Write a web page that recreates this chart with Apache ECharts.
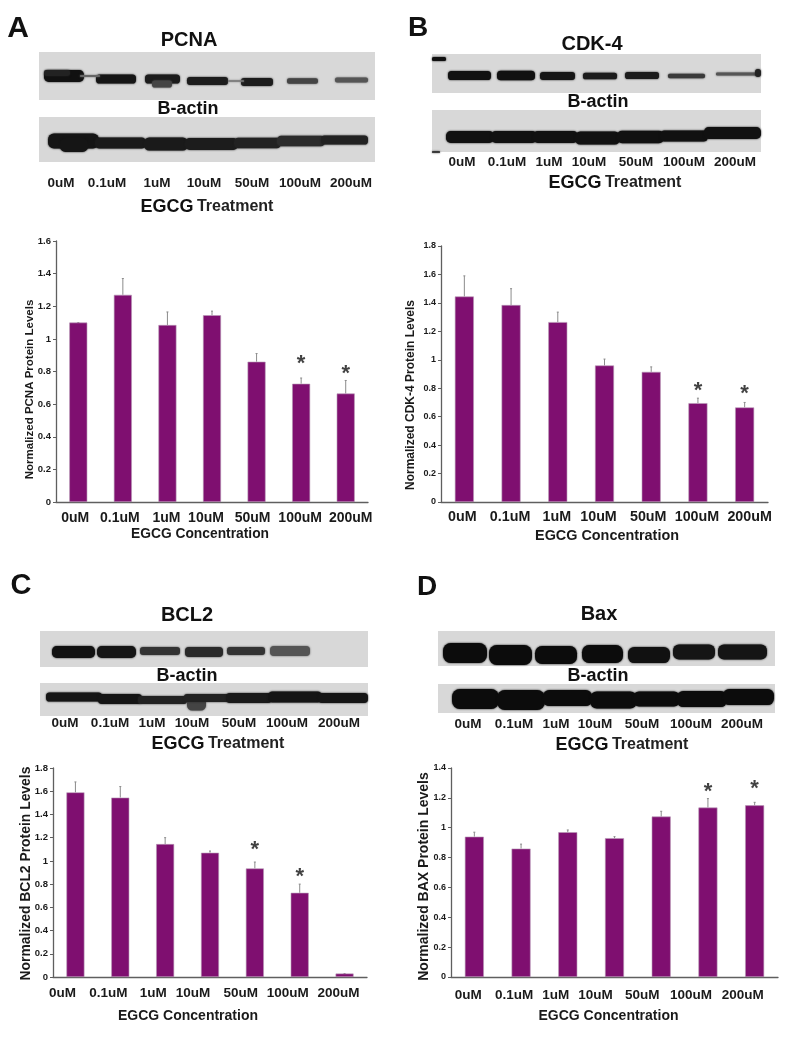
<!DOCTYPE html>
<html>
<head>
<meta charset="utf-8">
<title>EGCG western blots</title>
<script src="https://cdn.jsdelivr.net/npm/echarts@6/dist/echarts.min.js"></script>
<style>
  html, body { margin: 0; padding: 0; background: #fff; }
  #main { width: 807px; height: 1050px; filter: blur(0.45px); }
</style>
</head>
<body>
<div id="main"></div>
<script>
var doses = ['0uM', '0.1uM', '1uM', '10uM', '50uM', '100uM', '200uM']

// bar heights and the top of each error bar
var pcnaValues = [1.1, 1.27, 1.085, 1.145, 0.86, 0.725, 0.665]
var pcnaTops = [1.1, 1.37, 1.165, 1.17, 0.91, 0.76, 0.745]
var pcnaStars = [null, null, null, null, null, 0.864, 0.805]

var cdkValues = [1.445, 1.385, 1.265, 0.96, 0.915, 0.695, 0.665]
var cdkTops = [1.59, 1.5, 1.335, 1.005, 0.95, 0.73, 0.7]
var cdkStars = [null, null, null, null, null, 0.8, 0.78]

var bclValues = [1.59, 1.545, 1.145, 1.07, 0.935, 0.725, 0.03]
var bclTops = [1.68, 1.64, 1.2, 1.085, 0.99, 0.8, 0.03]
var bclStars = [null, null, null, null, 1.12, 0.887, null]

var baxValues = [0.94, 0.86, 0.97, 0.93, 1.075, 1.135, 1.15]
var baxTops = [0.97, 0.89, 0.985, 0.94, 1.11, 1.195, 1.17]
var baxStars = [null, null, null, null, null, 1.263, 1.277]

var FONT = '"Liberation Sans", Arial, sans-serif'
var PURPLE = '#7f0f70'
var AXIS = '#5f5f5f'

var panels = [
  { values: pcnaValues, tops: pcnaTops, stars: pcnaStars, yName: 'Normalized PCNA Protein Levels', max: 1.6,
    left: 56, right: 368, top: 241, bottom: 502, barWidth: 18, tickFont: 9.5, nameFont: 11.5, xFont: 14, xNameFont: 13.8,
    shifts: [-3, -3, -1, -6, -4, -1, 5], yGap: 20, yShift: 18, xShift: -12, xGap: 25, labelMargin: 9 },
  { values: cdkValues, tops: cdkTops, stars: cdkStars, yName: 'Normalized CDK-4 Protein Levels', max: 1.8,
    left: 441, right: 768, top: 246, bottom: 502, barWidth: 19, tickFont: 9, nameFont: 12, xFont: 14.3, xNameFont: 14.4,
    shifts: [-2, -1, -1, -6, -3, -1, 5], yGap: 24, yShift: 21, xShift: 2.5, xGap: 27, labelMargin: 8 },
  { values: bclValues, tops: bclTops, stars: bclStars, yName: 'Normalized BCL2 Protein Levels', max: 1.8,
    left: 53, right: 367, top: 768, bottom: 977, barWidth: 18, tickFont: 9.5, nameFont: 13.9, xFont: 13.5, xNameFont: 14,
    shifts: [-13, -12, -12, -17, -14, -12, -6], yGap: 20, yShift: 1, xShift: -22, xGap: 32, labelMargin: 9 },
  { values: baxValues, tops: baxTops, stars: baxStars, yName: 'Normalized BAX Protein Levels', max: 1.4,
    left: 451, right: 778, top: 768, bottom: 977, barWidth: 19, tickFont: 9, nameFont: 14, xFont: 13.5, xNameFont: 14,
    shifts: [-6, -7, -12, -19, -19, -17, -12], yGap: 20, yShift: 4, xShift: -6, xGap: 32, labelMargin: 11 }
]

// gel strips: [x0, y0, x1, y1]
var gelStrips = [
  [39, 52, 375, 100], [39, 117, 375, 162],
  [432, 54, 761, 93], [432, 110, 761, 152],
  [40, 631, 368, 667], [40, 683, 368, 716],
  [438, 631, 775, 666], [438, 684, 775, 713]
]

// gel bands: [x0, x1, centre y, thickness, colour]
var gelBands = [
  [44, 84, 76, 12, '#111'], [44, 70, 73, 6, '#222'], [96, 136, 79, 9, '#151515'], [145, 180, 79, 9, '#1c1c1c'],
  [152, 172, 84, 7, '#444'], [187, 228, 81, 8, '#1c1c1c'], [241, 273, 82, 8, '#1c1c1c'], [287, 318, 81, 5.5, '#444'],
  [335, 368, 80, 5, '#555'], [80, 100, 76, 2, '#666'], [228, 244, 81, 1.5, '#777'],

  [48, 99, 141, 15, '#151515'], [60, 88, 145, 14, '#151515'], [95, 146, 143, 11, '#1a1a1a'], [144, 188, 144, 13, '#1a1a1a'],
  [185, 238, 144, 12, '#1c1c1c'], [234, 281, 143, 10.5, '#222'], [277, 325, 141, 10.5, '#2c2c2c'], [321, 368, 140, 9, '#222'],

  [448, 491, 75.5, 9, '#111'], [497, 535, 75.5, 9.5, '#111'], [540, 575, 76, 8, '#151515'], [583, 617, 76, 6.5, '#1c1c1c'],
  [625, 659, 75.5, 7, '#1c1c1c'], [668, 705, 76, 4.5, '#3a3a3a'], [716, 758, 74, 3, '#555'], [755, 761, 73, 8, '#222'],

  [446, 494, 137, 12, '#111'], [491, 537, 137, 12, '#111'], [533, 578, 137, 12, '#111'], [575, 620, 138, 13, '#111'],
  [617, 664, 137, 12.5, '#111'], [660, 708, 136, 11, '#111'], [704, 761, 133, 12, '#111'],

  [52, 95, 652, 12, '#111'], [97, 136, 652, 12, '#151515'], [140, 180, 651, 8, '#333'], [185, 223, 652, 10, '#2a2a2a'],
  [227, 265, 651, 8, '#333'], [270, 310, 651, 10, '#555'],

  [46, 102, 697, 9, '#151515'], [98, 142, 699, 10, '#151515'], [138, 187, 700, 8, '#222'], [187, 206, 704, 13, '#444'],
  [184, 230, 698, 8, '#222'], [226, 272, 698, 10, '#1a1a1a'], [268, 322, 697, 11, '#151515'], [318, 368, 698, 10, '#151515'],

  [443, 487, 653, 20, '#0c0c0c'], [489, 532, 655, 20, '#0c0c0c'], [535, 577, 655, 18, '#0c0c0c'], [582, 623, 654, 18, '#0c0c0c'],
  [628, 670, 655, 16, '#111'], [673, 715, 652, 15, '#151515'], [718, 767, 652, 15, '#151515'],

  [452, 499, 699, 20, '#0c0c0c'], [497, 545, 700, 20, '#0c0c0c'], [543, 592, 698, 16, '#0c0c0c'], [590, 637, 700, 17, '#0c0c0c'],
  [633, 680, 699, 15, '#0c0c0c'], [677, 727, 699, 16, '#0c0c0c'], [723, 774, 697, 16, '#0c0c0c'],

  [432, 446, 59, 4, '#111'], [432, 440, 152, 1.5, '#222']
]

// [text, x, y, size]
var bigLabels = [
  ['A', 18, 29, 30], ['B', 418, 28, 28], ['C', 21, 586, 29], ['D', 427, 587, 28],
  ['PCNA', 189, 40, 20], ['CDK-4', 592, 44, 20], ['BCL2', 187, 615, 20], ['Bax', 599, 614, 20],
  ['B-actin', 188, 109, 18], ['B-actin', 598, 102, 18], ['B-actin', 187, 676, 18], ['B-actin', 598, 676, 18]
]
// lane labels under each gel: y, x of every lane
var laneRows = [
  [183, [61, 107, 157, 204, 252, 300, 351]],
  [162, [462, 507, 549, 589, 636, 684, 735]],
  [723, [65, 110, 152, 192, 239, 287, 339]],
  [724, [468, 514, 556, 595, 642, 691, 742]]
]
var treatmentLabels = [[207, 207], [615, 183], [218, 744], [622, 745]]

function makeGraphic () {
  var list = []
  gelStrips.forEach(function (s) {
    list.push({ type: 'rect', silent: true, shape: { x: s[0], y: s[1], width: s[2] - s[0], height: s[3] - s[1] }, style: { fill: '#d8d8d8' } })
  })
  gelBands.forEach(function (b) {
    list.push({
      type: 'rect', silent: true,
      shape: { x: b[0], y: b[2] - b[3] / 2, width: b[1] - b[0], height: b[3], r: b[3] * 0.4 },
      style: { fill: b[4], shadowBlur: 2, shadowColor: b[4] }
    })
  })
  bigLabels.forEach(function (t) {
    list.push({
      type: 'text', silent: true,
      style: { text: t[0], x: t[1], y: t[2], align: 'center', verticalAlign: 'middle', fill: '#111', font: 'bold ' + t[3] + 'px ' + FONT }
    })
  })
  laneRows.forEach(function (row) {
    row[1].forEach(function (x, i) {
      list.push({
        type: 'text', silent: true,
        style: { text: doses[i], x: x, y: row[0], align: 'center', verticalAlign: 'middle', fill: '#1a1a1a', font: 'bold 13.5px ' + FONT }
      })
    })
  })
  treatmentLabels.forEach(function (t) {
    list.push({
      type: 'text', silent: true,
      style: {
        text: '{a|EGCG} {b|Treatment}', x: t[0], y: t[1], align: 'center', verticalAlign: 'middle',
        rich: {
          a: { font: 'bold 18px ' + FONT, fill: '#111' },
          b: { font: 'bold 16px ' + FONT, fill: '#222' }
        }
      }
    })
  })
  return list
}

function errorBar (params, api) {
  var bottom = api.coord([api.value(0), api.value(1)])
  var top = api.coord([api.value(0), api.value(2)])
  var lineStyle = { stroke: '#8c8c8c', lineWidth: 1 }
  return {
    type: 'group',
    children: [
      { type: 'line', shape: { x1: bottom[0], y1: bottom[1], x2: top[0], y2: top[1] }, style: lineStyle },
      { type: 'line', shape: { x1: top[0] - 1, y1: top[1], x2: top[0] + 1, y2: top[1] }, style: lineStyle }
    ]
  }
}

var grids = [], xAxes = [], yAxes = [], series = []

panels.forEach(function (p, n) {
  var rich = {}
  p.shifts.forEach(function (s, i) {
    rich['s' + i] = {
      fontFamily: FONT, fontWeight: 'bold', fontSize: p.xFont, color: '#1a1a1a',
      padding: s < 0 ? [0, -2 * s, 0, 0] : [0, 0, 0, 2 * s]
    }
  })
  grids.push({ left: p.left, top: p.top, width: p.right - p.left, height: p.bottom - p.top, containLabel: false })
  xAxes.push({
    type: 'category', gridIndex: n, data: doses,
    name: 'EGCG Concentration', nameLocation: 'middle', nameGap: p.xGap,
    nameTextStyle: {
      fontFamily: FONT, fontWeight: 'bold', fontSize: p.xNameFont, color: '#1a1a1a',
      padding: p.xShift < 0 ? [0, -2 * p.xShift, 0, 0] : [0, 0, 0, 2 * p.xShift]
    },
    axisLine: { lineStyle: { color: AXIS, width: 1.3 } },
    axisTick: { length: 3, lineStyle: { color: AXIS } },
    axisLabel: {
      interval: 0, margin: p.labelMargin, rich: rich,
      formatter: function (v) { return '{s' + doses.indexOf(v) + '|' + v + '}' }
    }
  })
  yAxes.push({
    type: 'value', gridIndex: n, min: 0, max: p.max, interval: 0.2,
    name: p.yName, nameLocation: 'middle', nameGap: p.yGap, nameMoveOverlap: false,
    nameTextStyle: {
      fontFamily: FONT, fontWeight: 'bold', fontSize: p.nameFont, color: '#1a1a1a',
      padding: [0, 2 * p.yShift, 0, 0]
    },
    splitLine: { show: false },
    axisLine: { show: true, lineStyle: { color: AXIS, width: 1.3 } },
    axisTick: { show: true, length: 3, lineStyle: { color: AXIS } },
    axisLabel: { margin: 5, fontFamily: FONT, fontWeight: 'bold', fontSize: p.tickFont, color: '#1a1a1a' }
  })
  series.push({
    type: 'bar', xAxisIndex: n, yAxisIndex: n, barWidth: p.barWidth, data: p.values, silent: true,
    itemStyle: { color: PURPLE, borderColor: '#b79ab5', borderWidth: 0.6 }
  })
  series.push({
    type: 'custom', xAxisIndex: n, yAxisIndex: n, silent: true, z: 1, renderItem: errorBar,
    encode: { x: 0, y: [1, 2] },
    data: p.values.map(function (v, i) { return [i, v, p.tops[i]] })
  })
  series.push({
    type: 'scatter', xAxisIndex: n, yAxisIndex: n, silent: true, symbolSize: 1, z: 3,
    itemStyle: { color: 'transparent' },
    label: { show: true, position: 'inside', formatter: '*', fontFamily: FONT, fontWeight: 'bold', fontSize: 22, color: '#111', offset: [0, 3] },
    data: p.stars.map(function (v, i) { return v === null ? null : [i, v] }).filter(Boolean)
  })
})

var chart = echarts.init(document.getElementById('main'), null, { renderer: 'canvas' })
chart.setOption({
  animation: false,
  backgroundColor: '#fff',
  tooltip: { show: false },
  grid: grids,
  xAxis: xAxes,
  yAxis: yAxes,
  series: series,
  graphic: makeGraphic()
})
</script>
</body>
</html>
